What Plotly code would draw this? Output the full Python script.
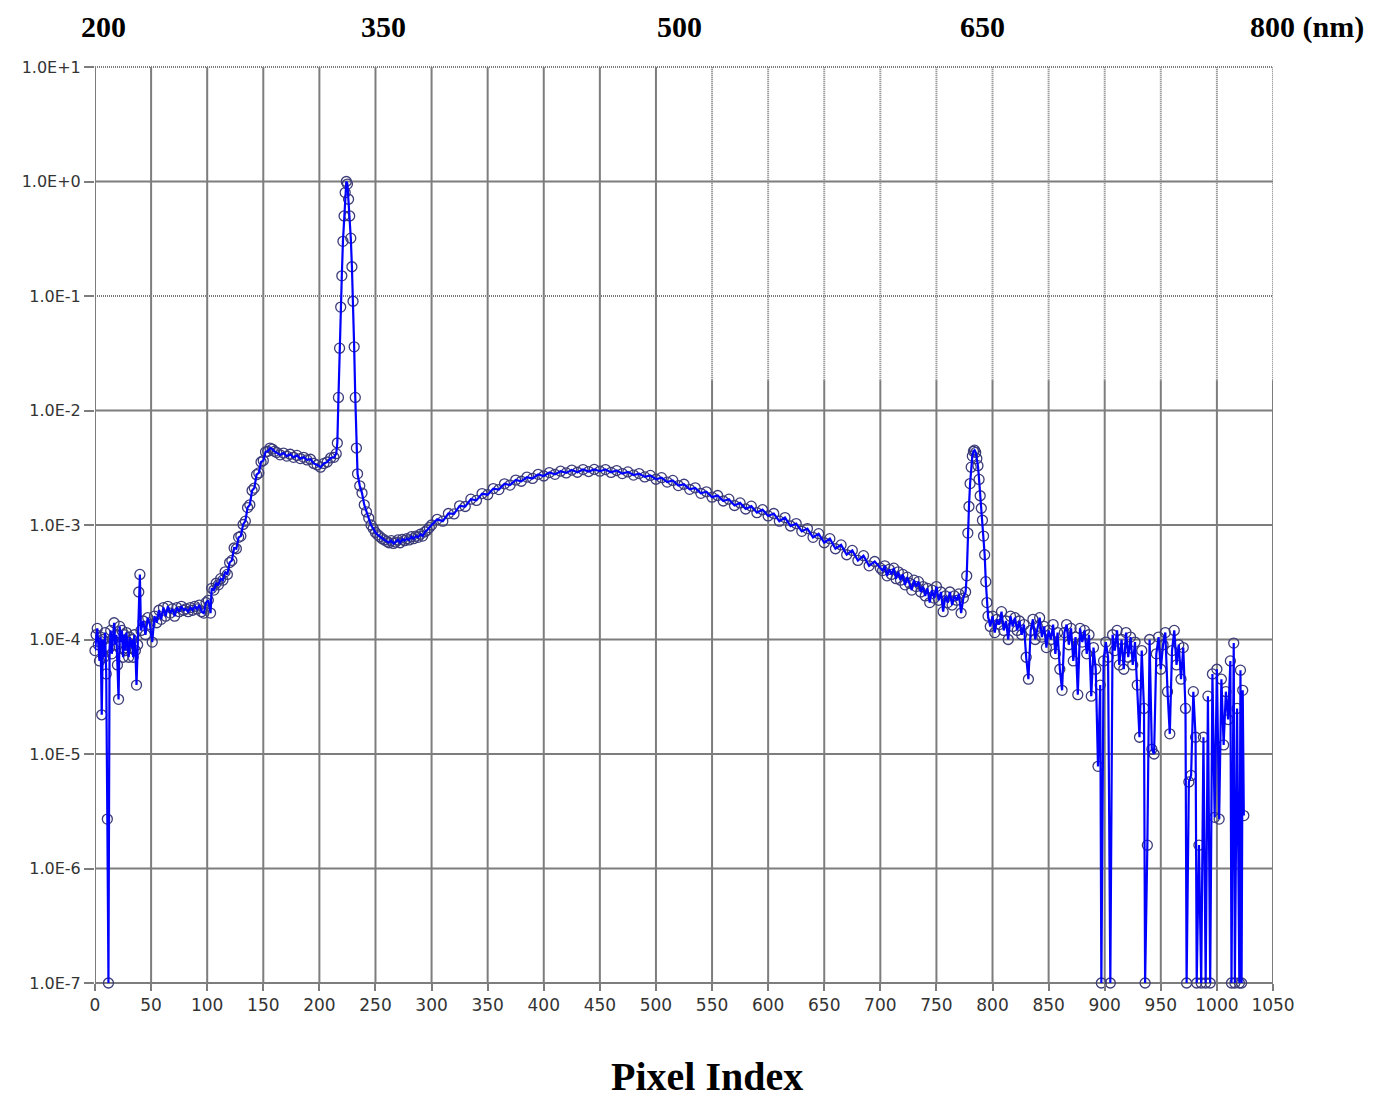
import plotly.graph_objects as go

# --- spectrum (pixel index -> relative intensity) ---
# noisy start around 1e-4
pix_a = list(range(0, 42))
val_a = [8e-5, 1.1e-4, 1.25e-4, 9e-5, 6.5e-5, 1.05e-4, 2.2e-5, 1.0e-4, 7e-5, 1.15e-4,
         5e-5, 2.7e-6, 1e-7, 8.5e-5, 1.2e-4, 7.5e-5, 1.0e-4, 1.4e-4, 9e-5, 1.1e-4,
         6e-5, 3e-5, 1.3e-4, 9.5e-5, 1.2e-4, 7e-5, 1.1e-4, 8e-5, 1.15e-4, 9e-5,
         7e-5, 1.05e-4, 8.5e-5, 1.0e-4, 7e-5, 1.1e-4, 8e-5, 4e-5, 9e-5, 2.6e-4,
         3.7e-4, 1.2e-4]

pix_b = list(range(43, 104, 2))
val_b = [1.45e-4, 1.1e-4, 1.55e-4, 1.35e-4, 9.5e-5, 1.6e-4, 1.4e-4, 1.8e-4, 1.5e-4, 1.9e-4,
         1.6e-4, 1.95e-4, 1.7e-4, 1.85e-4, 1.6e-4, 1.9e-4, 1.75e-4, 1.95e-4, 1.8e-4, 1.85e-4,
         1.75e-4, 1.9e-4, 1.8e-4, 1.95e-4, 1.85e-4, 2.0e-4, 1.75e-4, 1.7e-4, 2.1e-4, 2.2e-4,
         1.7e-4]

# rise to the first shoulder
pix_c = list(range(104, 161, 2))
val_c = [2.8e-4, 2.7e-4, 3.1e-4, 3.0e-4, 3.4e-4, 3.3e-4, 3.9e-4, 3.7e-4, 4.7e-4, 4.9e-4,
         6.3e-4, 6.2e-4, 7.8e-4, 8.0e-4, 1.01e-3, 1.08e-3, 1.42e-3, 1.5e-3, 2.0e-3, 2.1e-3,
         2.75e-3, 2.85e-3, 3.55e-3, 3.65e-3, 4.35e-3, 4.4e-3, 4.7e-3, 4.6e-3, 4.4e-3]

pix_d = list(range(162, 214, 3))
val_d = [4.3e-3, 4.1e-3, 4.25e-3, 4.0e-3, 4.15e-3, 3.9e-3, 4.05e-3, 3.8e-3, 3.9e-3, 3.7e-3,
         3.75e-3, 3.45e-3, 3.35e-3, 3.2e-3, 3.45e-3, 3.55e-3, 3.85e-3, 3.9e-3]

# main peak
pix_e = list(range(215, 235))
val_e = [4.2e-3, 5.2e-3, 1.3e-2, 3.5e-2, 8e-2, 0.15, 0.3, 0.5, 0.8, 1.0,
         0.95, 0.7, 0.5, 0.32, 0.18, 0.09, 0.036, 0.013, 4.7e-3, 2.8e-3]

pix_f = list(range(236, 299, 2))
val_f = [2.2e-3, 1.9e-3, 1.5e-3, 1.3e-3, 1.15e-3, 1.0e-3, 9.3e-4, 8.6e-4, 8.2e-4, 7.9e-4,
         7.6e-4, 7.4e-4, 7.2e-4, 7.0e-4, 7.3e-4, 6.9e-4, 7.1e-4, 7.4e-4, 7.0e-4, 7.5e-4,
         7.3e-4, 7.6e-4, 7.4e-4, 7.9e-4, 7.6e-4, 8.0e-4, 7.8e-4, 8.3e-4, 8.0e-4, 8.7e-4,
         9.0e-4, 9.5e-4]

# broad hump
pix_g = list(range(300, 701, 5))
val_g = [1.00e-3, 1.12e-3, 1.08e-3, 1.26e-3, 1.25e-3, 1.47e-3, 1.45e-3, 1.68e-3, 1.64e-3, 1.88e-3,
         1.84e-3, 2.08e-3, 2.04e-3, 2.29e-3, 2.23e-3, 2.47e-3, 2.41e-3, 2.62e-3, 2.55e-3, 2.77e-3,
         2.68e-3, 2.87e-3, 2.77e-3, 2.95e-3, 2.85e-3, 3.02e-3, 2.89e-3, 3.05e-3, 2.93e-3, 3.06e-3,
         2.95e-3, 3.05e-3, 2.88e-3, 2.99e-3, 2.81e-3, 2.91e-3, 2.73e-3, 2.81e-3, 2.63e-3, 2.71e-3,
         2.51e-3, 2.59e-3, 2.37e-3, 2.45e-3, 2.21e-3, 2.27e-3, 2.05e-3, 2.11e-3, 1.89e-3, 1.95e-3,
         1.75e-3, 1.81e-3, 1.62e-3, 1.68e-3, 1.48e-3, 1.56e-3, 1.38e-3, 1.46e-3, 1.28e-3, 1.36e-3,
         1.20e-3, 1.26e-3, 1.08e-3, 1.16e-3, 9.8e-4, 1.03e-3, 8.8e-4, 9.3e-4, 7.8e-4, 8.4e-4,
         7.0e-4, 7.6e-4, 6.2e-4, 6.7e-4, 5.5e-4, 6.0e-4, 4.9e-4, 5.4e-4, 4.4e-4, 4.8e-4,
         4.2e-4]

pix_h = list(range(702, 777, 2))
val_h = [4.0e-4, 4.4e-4, 3.6e-4, 4.1e-4, 3.7e-4, 4.2e-4, 3.4e-4, 3.9e-4, 3.3e-4, 3.7e-4,
         3.0e-4, 3.5e-4, 3.1e-4, 2.7e-4, 3.3e-4, 2.9e-4, 3.2e-4, 2.6e-4, 2.9e-4, 2.4e-4,
         2.8e-4, 2.1e-4, 2.7e-4, 2.3e-4, 2.9e-4, 2.2e-4, 2.6e-4, 1.75e-4, 2.4e-4, 2.1e-4,
         2.6e-4, 2.0e-4, 2.4e-4, 2.2e-4, 2.5e-4, 1.7e-4, 2.3e-4, 2.6e-4]

# second peak
pix_i = list(range(777, 797))
val_i = [3.6e-4, 8.5e-4, 1.45e-3, 2.3e-3, 3.2e-3, 4.0e-3, 4.4e-3, 4.5e-3, 4.3e-3, 3.8e-3,
         3.3e-3, 2.5e-3, 1.8e-3, 1.4e-3, 1.1e-3, 8e-4, 5.5e-4, 3.2e-4, 2.1e-4, 1.6e-4]

# noisy tail with drop-outs to the floor
pix_j = [798, 800, 802, 804, 806, 808, 810, 812, 814, 816,
         818, 820, 822, 824, 826, 828, 830, 832, 834, 836,
         838, 840, 842, 844, 846, 848, 850, 852, 854, 856,
         858, 860, 862, 864, 866, 868, 870, 872, 874, 876,
         878, 880, 882, 884, 886, 888, 890, 892, 894, 896,
         897, 899, 901, 903, 905, 907, 909, 911, 913, 915,
         917, 919, 921, 923, 925, 927, 929, 931, 933, 935,
         936, 938, 940, 942, 944, 946, 948, 950, 952, 954,
         956, 958, 960, 962, 964, 966, 968, 970, 972, 973,
         975, 977, 979, 981, 982, 984, 986, 988, 990, 992,
         994, 996, 998, 1000, 1002, 1004, 1006, 1008, 1010, 1012,
         1013, 1015, 1016, 1018, 1020, 1021, 1022, 1023, 1024]
val_j = [1.3e-4, 1.6e-4, 1.15e-4, 1.5e-4, 1.35e-4, 1.75e-4, 1.2e-4, 1.45e-4, 1.0e-4, 1.6e-4,
         1.3e-4, 1.55e-4, 1.2e-4, 1.45e-4, 1.1e-4, 1.35e-4, 7e-5, 4.5e-5, 1.2e-4, 1.5e-4,
         1.0e-4, 1.3e-4, 1.55e-4, 1.05e-4, 1.3e-4, 8.5e-5, 1.2e-4, 1.0e-4, 1.35e-4, 7.5e-5,
         1.15e-4, 5.5e-5, 3.6e-5, 1.15e-4, 1.35e-4, 9e-5, 1.25e-4, 6.5e-5, 1.05e-4, 3.3e-5,
         1.25e-4, 9.5e-5, 1.2e-4, 7.5e-5, 1.1e-4, 3.2e-5, 8.5e-5, 5.5e-5, 7.8e-6, 4e-5,
         1e-7, 6.5e-5, 9.5e-5, 7e-5, 1e-7, 1.1e-4, 8e-5, 1.2e-4, 6e-5, 1.0e-4,
         5.5e-5, 1.15e-4, 7e-5, 1.05e-4, 6e-5, 9.5e-5, 4e-5, 1.4e-5, 8e-5, 2.5e-5,
         1e-7, 1.6e-6, 1.0e-4, 1.1e-5, 1.0e-5, 7.5e-5, 1.05e-4, 5.5e-5, 9e-5, 1.15e-4,
         3.5e-5, 1.5e-5, 8e-5, 1.2e-4, 6e-5, 9e-5, 4.5e-5, 8.5e-5, 2.5e-5, 1e-7,
         5.7e-6, 6.5e-6, 3.5e-5, 1.4e-5, 1e-7, 1.6e-6, 1e-7, 1.4e-5, 1e-7, 3.2e-5,
         1e-7, 5e-5, 2.8e-6, 5.5e-5, 2.7e-6, 4.5e-5, 1.2e-5, 3.5e-5, 2.0e-5, 6.5e-5,
         1e-7, 9.3e-5, 1e-7, 2.5e-5, 1e-7, 5.4e-5, 1e-7, 3.6e-5, 2.9e-6]

pixel = pix_a + pix_b + pix_c + pix_d + pix_e + pix_f + pix_g + pix_h + pix_i + pix_j
intensity = val_a + val_b + val_c + val_d + val_e + val_f + val_g + val_h + val_i + val_j

# axes / labels
decades = [1, 0, -1, -2, -3, -4, -5, -6, -7]
decade_labels = ["1.0E+1", "1.0E+0", "1.0E-1", "1.0E-2", "1.0E-3",
                 "1.0E-4", "1.0E-5", "1.0E-6", "1.0E-7"]
x_grid = list(range(0, 1051, 50))
nm_labels = ["200", "350", "500", "650", "800 (nm)"]
nm_pos = [0.007, 0.2445, 0.4958, 0.7538, 0.9788]

GRID = "#7d7d7d"
DOTS = "1px,1px"
SERIF = "Liberation Serif, Times New Roman, serif"

fig = go.Figure()
# open circles first, the blue trace is drawn over them as in the original
fig.add_trace(go.Scatter(
    x=pixel, y=intensity, mode="markers",
    marker=dict(symbol="circle-open", size=10, color="#3c3c78", line=dict(width=1.3)),
    cliponaxis=False, showlegend=False, hoverinfo="skip",
))
fig.add_trace(go.Scatter(
    x=pixel, y=intensity, mode="lines",
    line=dict(color="#0000ff", width=2.2),
    showlegend=False,
))

shapes = []
# vertical grid (upper part of the right half looks dotted in the original)
for gx in x_grid:
    if gx <= 500:
        shapes.append(dict(type="line", xref="x", yref="paper", x0=gx, x1=gx, y0=0, y1=1,
                           line=dict(color=GRID, width=2), layer="below"))
    else:
        shapes.append(dict(type="line", xref="x", yref="paper", x0=gx, x1=gx, y0=0, y1=0.658,
                           line=dict(color=GRID, width=2), layer="below"))
        shapes.append(dict(type="line", xref="x", yref="paper", x0=gx, x1=gx, y0=0.658, y1=1,
                           line=dict(color=GRID, width=2, dash=DOTS), layer="below"))
# horizontal grid
for k in decades:
    py = (k + 7) / 8
    dash = DOTS if k in (1, -1) else "solid"
    shapes.append(dict(type="line", xref="paper", yref="paper", x0=0, x1=1, y0=py, y1=py,
                       line=dict(color=GRID, width=2, dash=dash), layer="below"))

annotations = []
for txt, ax in zip(nm_labels, nm_pos):
    annotations.append(dict(
        text=f"<b>{txt}</b>", xref="paper", yref="paper", x=ax, y=1.0644,
        xanchor="left" if "nm" in txt else "center", yanchor="top", showarrow=False,
        font=dict(family=SERIF, size=30, color="#000000"),
    ))
annotations.append(dict(
    text="<b>Pixel Index</b>", xref="paper", yref="paper", x=0.5195, y=-0.1288,
    xanchor="center", yanchor="bottom", showarrow=False,
    font=dict(family=SERIF, size=40, color="#000000"),
))

fig.update_layout(
    width=1360, height=1093, autosize=False,
    margin=dict(l=87, r=95, t=59, b=118),
    paper_bgcolor="white", plot_bgcolor="white",
    shapes=shapes, annotations=annotations,
    font=dict(family="DejaVu Sans, sans-serif", size=16, color="#333333"),
)
fig.update_xaxes(
    range=[0, 1050], tickvals=x_grid, showgrid=False, zeroline=False, showline=False,
    ticks="outside", ticklen=7, tickwidth=2, tickcolor=GRID,
    tickfont=dict(family="DejaVu Sans, sans-serif", size=17, color="#333333"),
)
fig.update_yaxes(
    type="log", range=[-7, 1], tickvals=[10 ** k for k in decades], ticktext=decade_labels,
    showgrid=False, zeroline=False, showline=False,
    ticks="outside", ticklen=10, tickwidth=2, tickcolor=GRID,
    tickfont=dict(family="DejaVu Sans, sans-serif", size=16, color="#333333"),
)

fig.write_html("out.html")
